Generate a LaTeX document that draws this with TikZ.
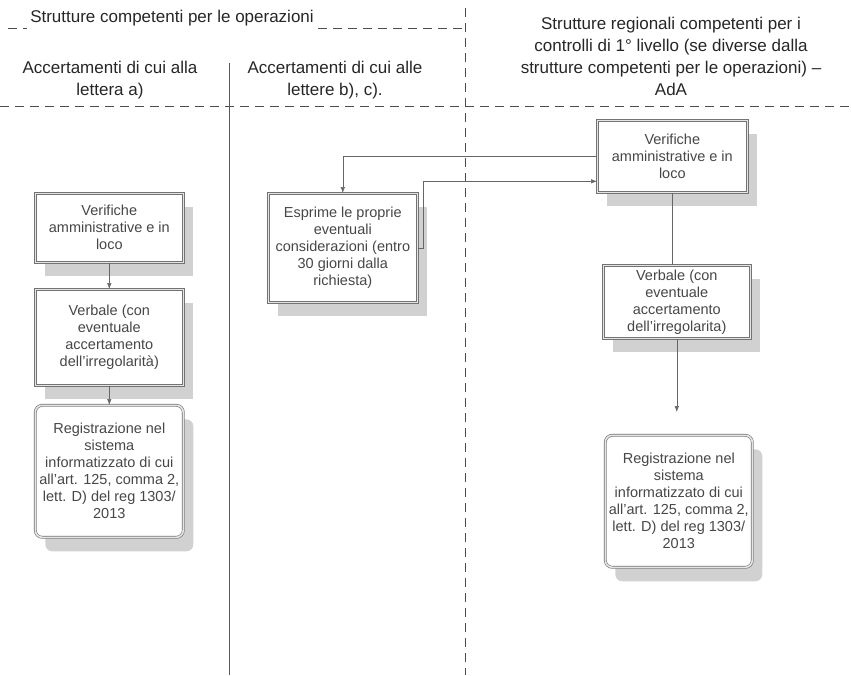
\documentclass[tikz,border=0pt]{standalone}
\usepackage{fontspec}
\setmainfont{Liberation Sans}
\usetikzlibrary{arrows.meta,shadows}

\begin{document}
\begin{tikzpicture}[x=1pt,y=-1pt,
  sep/.style={black!70, line width=0.8pt, dash pattern=on 9pt off 6pt},
  hd/.style={black!85, align=center, font=\fontsize{17}{22}\selectfont},
  box/.style={draw=black!55, line width=0.6pt, double=black!10, double distance=1.6pt,
    fill=white, text=black!72, align=center, font=\fontsize{14.5}{17}\selectfont,
    inner sep=2pt, anchor=north west,
    drop shadow={shadow xshift=10pt, shadow yshift=-14pt, fill=black!18, opacity=1}},
  rbox/.style={box, rounded corners=7pt},
  lnk/.style={draw=black!60, line width=0.6pt},
  arr/.style={lnk, -{Latex[length=6pt,width=4.5pt]}}]

\useasboundingbox (0,0) rectangle (851,675);

% lanes
\draw[sep]
(8,28) -- (27,28)
(318,28) -- (463,28)
(465,8) -- (465,675)
(0,106) -- (851,106);
\draw[black!65, line width=0.9pt]
(229,63) -- (229,675);

\node[hd] (hdr) at (172,18) {Strutture competenti per le operazioni};
\node[hd] (colA) at (110,80) {Accertamenti di cui alla\\lettera a)};
\node[hd] (colB) at (335,80) {Accertamenti di cui alle\\lettere b), c).};
\node[hd] (colC) at (671,56) {Strutture regionali competenti per i\\controlli di 1° livello (se diverse dalla\\strutture competenti per le operazioni) --\\AdA};

% lettera a)
\node[box, minimum width=148, minimum height=69] (lver) at (35,193)
  {Verifiche\\amministrative e in\\loco};
\node[box, minimum width=148, minimum height=96] (lverb) at (35,289)
  {Verbale (con\\eventuale\\accertamento\\dell'irregolarità)};
\node[rbox, minimum width=148, minimum height=132] (lreg) at (35,405)
  {Registrazione nel\\sistema\\informatizzato di cui\\all'art. 125, comma 2,\\lett. D) del reg 1303/\\2013};

% lettere b), c)
\node[box, minimum width=149, minimum height=109] (esp) at (268,193)
  {Esprime le proprie\\eventuali\\considerazioni (entro\\30 giorni dalla\\richiesta)};

% AdA
\node[box, minimum width=150, minimum height=72] (rver) at (597,120)
  {Verifiche\\amministrative e in\\loco};
\node[box, minimum width=147, minimum height=73] (rverb) at (603,265)
  {Verbale (con\\eventuale\\accertamento\\dell'irregolarita)};
\node[rbox, minimum width=147, minimum height=132] (rreg) at (605,435)
  {Registrazione nel\\sistema\\informatizzato di cui\\all'art. 125, comma 2,\\lett. D) del reg 1303/\\2013};

\draw[arr] (lver) -- (lverb);
\draw[arr] (lverb) -- (lreg);
\draw[arr] (rver.west) -| (esp.north);
\draw[arr] (esp.east) -- ++(6,0) |- ([yshift=-25pt]rver.west);
\draw[lnk] (rver.south) -- (rver.south |- rverb.north);
\draw[arr] (rverb.south) -- ([yshift=23pt]rverb.south |- rreg.north);

\end{tikzpicture}
\end{document}
